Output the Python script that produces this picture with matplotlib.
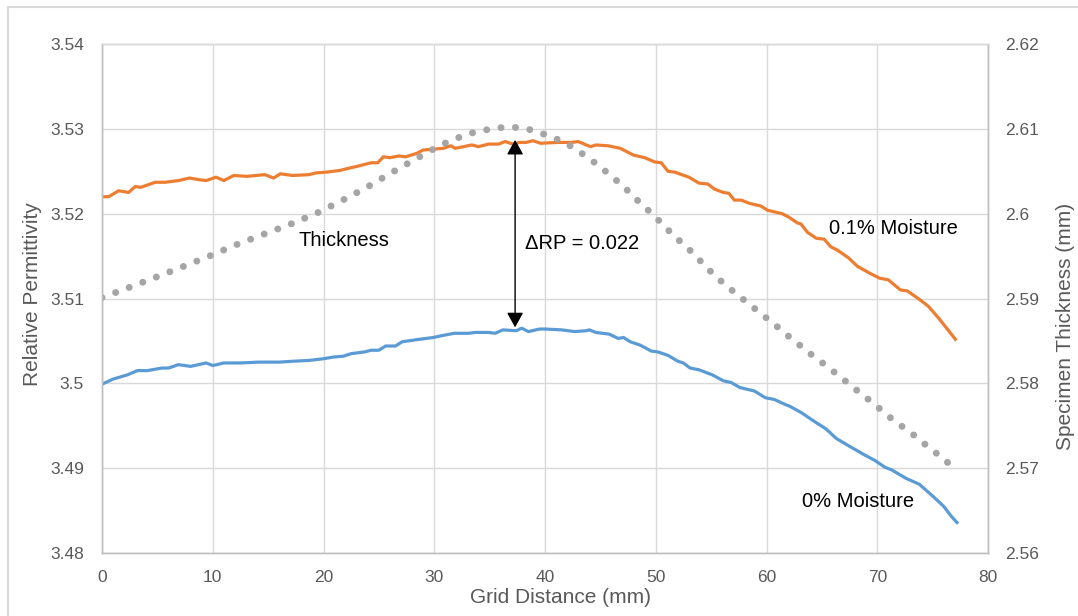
import matplotlib.pyplot as plt
from matplotlib.lines import Line2D

# 0% moisture (left axis)
blue_x = [0, 1, 2.3, 3.2, 4.1, 5.4, 6, 6.9, 8, 9.4, 10, 11, 12.5, 14.1, 15, 16,
          17.2, 18.7, 20, 20.9, 21.8, 22.5, 23.7, 24.3, 25, 25.6, 26.5, 27.1,
          28.7, 29.9, 30.6, 31.8, 33.1, 33.7, 34.9, 35.5, 36.2, 37.4, 37.9,
          38.5, 39.5, 40, 41.5, 42.7, 43.7, 44, 44.6, 45.8, 46.6, 47.1, 47.7,
          48.6, 49.6, 50.2, 51.1, 52, 52.5, 53.1, 53.9, 55.1, 56.1, 56.8,
          57.6, 58.9, 59.9, 60.7, 61.7, 62.1, 63.2, 64.1, 65.4, 66.3, 67.6,
          68.8, 69.8, 70.7, 71.3, 72.6, 73.8, 75.1, 76, 76.7, 77.2]
blue_y = [3.4999, 3.5005, 3.5010, 3.5015, 3.5015, 3.5018, 3.5018, 3.5022,
          3.5020, 3.5024, 3.5021, 3.5024, 3.5024, 3.5025, 3.5025, 3.5025,
          3.5026, 3.5027, 3.5029, 3.5031, 3.5032, 3.5035, 3.5037, 3.5039,
          3.5039, 3.5044, 3.5044, 3.5049, 3.5052, 3.5054, 3.5056, 3.5059,
          3.5059, 3.5060, 3.5060, 3.5059, 3.5063, 3.5062, 3.5065, 3.5061,
          3.5064, 3.5064, 3.5063, 3.5061, 3.5062, 3.5063, 3.5060, 3.5058,
          3.5053, 3.5054, 3.5049, 3.5045, 3.5038, 3.5037, 3.5033, 3.5026,
          3.5024, 3.5018, 3.5016, 3.5010, 3.5003, 3.5001, 3.4995, 3.4991,
          3.4983, 3.4981, 3.4975, 3.4973, 3.4965, 3.4957, 3.4946, 3.4935,
          3.4925, 3.4916, 3.4909, 3.4901, 3.4898, 3.4888, 3.4881, 3.4866,
          3.4855, 3.4843, 3.4836]

# 0.1% moisture (left axis)
orange_x = [0, 0.6, 1.5, 2.4, 3.0, 3.5, 4.8, 5.7, 6.9, 7.9, 8.8, 9.4, 10.3,
            11, 11.9, 13.1, 14.7, 15.5, 16.1, 17.2, 18.7, 19.3, 20.3, 21.5,
            22.1, 23.1, 24.3, 24.9, 25.4, 26, 26.8, 27.4, 28.4, 29, 30.8,
            31.5, 31.9, 33.4, 34, 34.9, 35.8, 36.4, 37.1, 37.7, 38.3, 38.9,
            39.6, 41.2, 42.4, 43, 44.1, 44.6, 45.7, 46.8, 48, 49, 49.9, 50.5,
            51.1, 51.7, 53, 53.9, 54.7, 55.3, 56.1, 56.6, 57.1, 57.7, 58.5,
            59.5, 60.1, 61.4, 62, 62.8, 63.1, 63.7, 64.5, 65.2, 65.8, 66.4,
            67.4, 68.2, 69.3, 70.2, 71, 72.1, 72.7, 73.7, 74.6, 75.6, 75.9,
            77.05]
orange_y = [3.5220, 3.5220, 3.5227, 3.5225, 3.5232, 3.5231, 3.5237, 3.5237,
            3.5239, 3.5242, 3.5240, 3.5239, 3.5243, 3.5239, 3.5245, 3.5244,
            3.5246, 3.5242, 3.5247, 3.5245, 3.5246, 3.5248, 3.5249, 3.5251,
            3.5253, 3.5256, 3.5260, 3.5260, 3.5267, 3.5266, 3.5268, 3.5267,
            3.5271, 3.5275, 3.5277, 3.5280, 3.5277, 3.5281, 3.5279, 3.5282,
            3.5282, 3.5285, 3.5282, 3.5284, 3.5284, 3.5286, 3.5283, 3.5284,
            3.5284, 3.5285, 3.5279, 3.5281, 3.5280, 3.5277, 3.5269, 3.5266,
            3.5261, 3.5260, 3.5250, 3.5249, 3.5243, 3.5236, 3.5235, 3.5229,
            3.5225, 3.5224, 3.5216, 3.5216, 3.5212, 3.5209, 3.5204, 3.5200,
            3.5196, 3.5189, 3.5188, 3.5178, 3.5171, 3.5170, 3.5161, 3.5157,
            3.5148, 3.5138, 3.5130, 3.5124, 3.5122, 3.5110, 3.5109, 3.5100,
            3.5091, 3.5076, 3.5071, 3.5052]

# specimen thickness (right axis)
thick_x = [0, 2.45, 4.85, 7.2, 9.7, 12.05, 14.45, 16.9, 19.3, 21.6, 23.9,
           26.1, 28.4, 30.6, 33.0, 35.5, 36.8, 38.1, 39.2, 40.7, 41.9, 43,
           44.1, 45.1, 46.1, 47.1, 48, 48.9, 49.9, 50.8, 51.7, 52.7, 53.6,
           54.5, 55.4, 56.4, 57.4, 58.4, 59.4, 60.4, 61.4, 62.4, 63.4, 64.4,
           65.5, 66.5, 67.5, 68.5, 69.5, 70.5, 71.5, 72.6, 73.6, 74.6, 75.6,
           76.6]
thick_y = [2.5901, 2.5913, 2.5925, 2.5937, 2.5950, 2.5963, 2.5975, 2.5987,
           2.6000, 2.6015, 2.6031, 2.6048, 2.6065, 2.6081, 2.6094, 2.6101,
           2.6102, 2.6101, 2.6097, 2.6090, 2.6083, 2.6074, 2.6064, 2.6054,
           2.6043, 2.6032, 2.6020, 2.6009, 2.5997, 2.5985, 2.5973, 2.5962,
           2.5950, 2.5938, 2.5926, 2.5915, 2.5904, 2.5894, 2.5883, 2.5873,
           2.5862, 2.5851, 2.5841, 2.5830, 2.5820, 2.5809, 2.5799, 2.5788,
           2.5778, 2.5767, 2.5756, 2.5746, 2.5736, 2.5725, 2.5715, 2.5704]

x_ticks = [0, 10, 20, 30, 40, 50, 60, 70, 80]
left_ticks = [3.48, 3.49, 3.50, 3.51, 3.52, 3.53, 3.54]
left_labels = ["3.48", "3.49", "3.5", "3.51", "3.52", "3.53", "3.54"]
right_ticks = [2.56, 2.57, 2.58, 2.59, 2.60, 2.61, 2.62]
right_labels = ["2.56", "2.57", "2.58", "2.59", "2.6", "2.61", "2.62"]

plt.rcParams['font.family'] = ['Liberation Sans', 'DejaVu Sans']

GRID = "#d9d9d9"
AXIS = "#bfbfbf"
TXT = "#595959"

fig = plt.figure(figsize=(10.78, 6.16), dpi=100)
ax = fig.add_axes([102 / 1078, 1 - 553 / 616, 886 / 1078, 509 / 616])
ax2 = ax.twinx()

ax.plot(blue_x, blue_y, color="#5B9BD5", lw=2.3, solid_joinstyle='round')
ax.plot(orange_x, orange_y, color="#ED7D31", lw=2.3, solid_joinstyle='round')
ax2.plot(thick_x, thick_y, color="#A5A5A5", lw=5,
         linestyle=(0, (0.01, 2.08)), dash_capstyle='round')

ax.set_xlim(0, 80)
ax.set_ylim(3.48, 3.54)
ax2.set_ylim(2.56, 2.62)
ax.set_xticks(x_ticks)
ax.set_yticks(left_ticks)
ax.set_yticklabels(left_labels)
ax2.set_yticks(right_ticks)
ax2.set_yticklabels(right_labels)

ax.grid(True, color=GRID, lw=1)
ax.set_axisbelow(True)
for a in (ax, ax2):
    a.tick_params(length=0, labelsize=12.5, labelcolor=TXT)
    for side, sp in a.spines.items():
        sp.set_color(GRID if side == "top" else AXIS)
        sp.set_linewidth(1)
ax.tick_params(axis='y', pad=13)
ax2.tick_params(axis='y', pad=12)
ax.tick_params(axis='x', pad=12)

ax.set_xlabel("Grid Distance (mm)", fontsize=15, color=TXT, va='center')
ax.xaxis.set_label_coords(0.517, -0.088)
ax.set_ylabel("Relative Permittivity", fontsize=15, color=TXT, va='center')
ax.yaxis.set_label_coords(-0.078, 0.509)
ax2.set_ylabel("Specimen Thickness (mm)", fontsize=15, color=TXT, va='center')
ax2.yaxis.set_label_coords(1.088, 0.446)

ax.annotate("", xy=(37.3, 3.5066), xytext=(37.3, 3.5287),
            arrowprops=dict(arrowstyle='<|-|>,head_length=0.45,head_width=0.25',
                            color='black', lw=1, mutation_scale=20,
                            shrinkA=0, shrinkB=0))
ax.text(38.2, 3.5165, "\u0394RP = 0.022", fontsize=14.5, va='center')
ax.text(17.7, 3.5168, "Thickness", fontsize=14.5, va='center')
ax.text(65.6, 3.5183, "0.1% Moisture", fontsize=14.5, va='center')
ax.text(63.2, 3.4861, "0% Moisture", fontsize=14.5, va='center')

# chart area border (top and left edges visible)
fig.add_artist(Line2D([8 / 1078, 1], [1 - 7 / 616, 1 - 7 / 616],
                      color=GRID, lw=1.5, transform=fig.transFigure))
fig.add_artist(Line2D([8 / 1078, 8 / 1078], [0, 1 - 7 / 616],
                      color=GRID, lw=1.5, transform=fig.transFigure))

fig.savefig("out.png", dpi=100)
